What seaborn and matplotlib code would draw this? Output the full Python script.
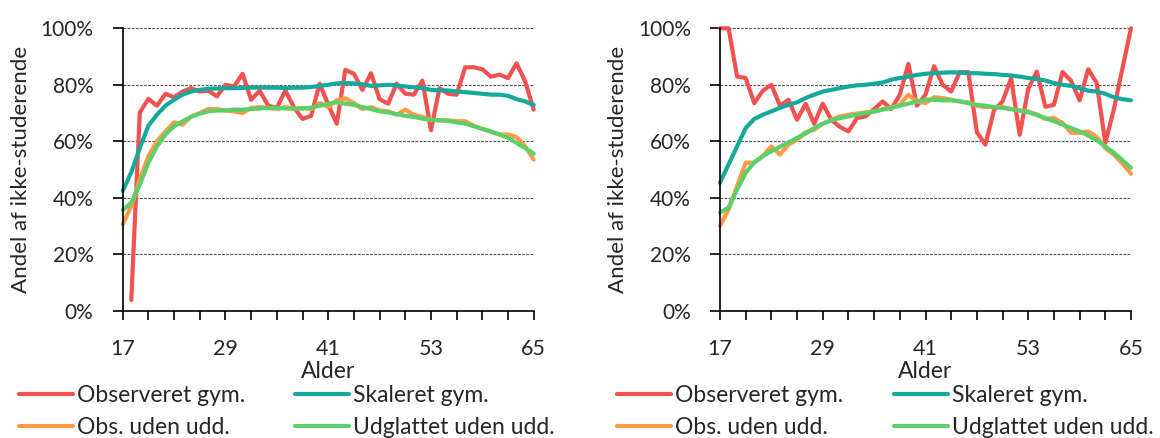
import numpy as np
import matplotlib
matplotlib.use('Agg')
import matplotlib.pyplot as plt
from matplotlib.ticker import PercentFormatter
import seaborn as sns

# Data, alder 17-65
ages = list(range(17, 66))

labels = ['Observeret gym.', 'Skaleret gym.', 'Obs. uden udd.', 'Udglattet uden udd.']
colors = ['#f2524f', '#15a99b', '#fd9a46', '#5ccf6b']

left_obs_gym = [np.nan, 3.8, 70.2, 75.0, 72.6, 76.8, 75.6, 77.6, 78.8, 77.6,
                77.9, 75.9, 80.0, 79.4, 83.9, 74.7, 77.9, 72.6, 71.8, 78.0,
                72.0, 67.9, 69.0, 80.4, 73.0, 66.2, 85.3, 83.9, 78.2, 84.1,
                74.9, 73.3, 80.4, 76.8, 76.5, 81.5, 63.9, 78.8, 76.8, 76.5,
                86.2, 86.2, 85.5, 82.9, 83.6, 82.4, 87.6, 81.2, 71.2]
left_skal_gym = [42.4, 49.0, 57.6, 65.5, 69.4, 72.6, 74.7, 76.5, 77.6, 78.2,
                 78.6, 78.7, 78.8, 78.8, 78.9, 79.0, 79.0, 79.0, 79.0, 78.8,
                 79.0, 79.0, 79.2, 79.6, 80.0, 80.5, 80.6, 80.5, 80.2, 79.6,
                 79.8, 80.0, 79.8, 79.4, 79.1, 78.8, 78.2, 78.0, 78.0, 77.6,
                 77.4, 77.1, 76.8, 76.5, 76.5, 76.1, 74.9, 74.1, 72.9]
left_obs_uden = [30.6, 37.0, 46.5, 54.7, 60.0, 63.5, 66.7, 65.9, 68.8, 70.0,
                 71.4, 71.4, 70.9, 70.6, 70.0, 71.8, 72.1, 71.8, 71.4, 72.1,
                 71.4, 71.8, 71.4, 73.5, 72.1, 74.5, 75.2, 73.5, 71.4, 72.1,
                 70.9, 70.6, 69.4, 71.2, 69.4, 68.6, 67.6, 67.4, 67.4, 67.1,
                 67.1, 65.5, 64.4, 63.5, 62.4, 62.4, 61.5, 58.2, 53.5]
left_udgl_uden = [35.6, 38.2, 44.7, 52.4, 58.2, 62.4, 65.3, 67.1, 68.6, 69.8,
                  70.6, 70.9, 70.9, 71.2, 71.2, 71.4, 71.6, 71.8, 71.8, 71.6,
                  71.6, 71.6, 71.9, 72.6, 73.3, 73.8, 73.3, 72.9, 72.1, 71.4,
                  70.6, 70.2, 69.6, 69.0, 68.6, 68.0, 67.6, 67.4, 67.2, 66.7,
                  66.2, 65.3, 64.4, 63.4, 62.4, 61.2, 59.4, 57.6, 55.6]

right_obs_gym = [100.0, 100.0, 82.9, 82.4, 73.5, 77.9, 80.0, 72.6, 74.7, 67.6,
                 73.3, 66.2, 73.3, 67.6, 65.1, 63.5, 68.2, 68.8, 71.4, 74.1,
                 71.4, 76.5, 87.4, 72.6, 76.5, 86.6, 80.0, 77.6, 84.5, 84.5,
                 63.2, 58.8, 71.0, 74.1, 82.3, 62.3, 78.6, 84.7, 72.2, 72.9,
                 84.5, 81.4, 74.5, 85.5, 80.6, 59.4, 71.3, 85.8, 100.0]
right_skal_gym = [45.3, 51.8, 58.2, 64.7, 67.9, 69.4, 70.6, 71.8, 72.9, 73.8,
                  75.3, 76.5, 77.6, 78.2, 78.8, 79.4, 79.8, 80.0, 80.4, 80.8,
                  81.8, 82.4, 82.9, 83.5, 83.9, 84.1, 84.3, 84.4, 84.3, 84.1,
                  84.1, 83.9, 83.8, 83.5, 83.3, 82.9, 82.4, 82.0, 81.5, 80.6,
                  80.0, 79.6, 78.8, 77.9, 77.6, 76.8, 75.6, 74.9, 74.5]
right_obs_uden = [30.0, 35.9, 44.1, 52.4, 52.4, 54.7, 58.2, 55.3, 58.8, 60.6,
                  63.2, 64.1, 66.2, 67.6, 68.8, 69.4, 69.8, 70.2, 70.6, 71.4,
                  71.8, 72.9, 76.5, 74.1, 73.5, 75.6, 75.3, 74.7, 74.1, 73.8,
                  72.6, 72.1, 72.1, 72.1, 71.4, 70.9, 70.6, 69.4, 67.9, 68.2,
                  66.5, 63.0, 63.0, 63.5, 61.5, 57.6, 55.3, 52.1, 48.5]
right_udgl_uden = [34.7, 36.5, 42.9, 48.8, 52.6, 54.7, 56.5, 58.0, 59.6, 61.2,
                   62.7, 64.7, 66.2, 67.4, 68.2, 68.8, 69.4, 70.0, 70.5, 71.2,
                   71.8, 72.6, 73.3, 74.1, 74.8, 74.7, 74.5, 74.5, 74.1, 73.5,
                   72.9, 72.6, 72.1, 71.8, 71.4, 70.9, 70.2, 69.4, 68.2, 67.1,
                   65.9, 64.7, 63.5, 62.0, 60.4, 58.2, 55.9, 53.3, 50.6]

panels = [
    [left_obs_gym, left_skal_gym, left_obs_uden, left_udgl_uden],
    [right_obs_gym, right_skal_gym, right_obs_uden, right_udgl_uden],
]

sns.set_style('white')
plt.rcParams['font.family'] = ['Lato', 'DejaVu Sans']
plt.rcParams['font.size'] = 15

fig = plt.figure(figsize=(11.6, 4.38), dpi=100)
W, H = 1160, 438
ax_lefts = [122.7, 720.0]
legend_x = [18.5, 617.0]

for i, series in enumerate(panels):
    ax = fig.add_axes([ax_lefts[i] / W, (H - 310.7) / H, 411.0 / W, 282.4 / H])
    for vals, lab, col in zip(series, labels, colors):
        sns.lineplot(x=ages, y=vals, ax=ax, color=col, lw=3.0, label=lab,
                     clip_on=False)

    ax.set_xlim(17, 65)
    ax.set_ylim(0, 100)
    ax.set_yticks(range(0, 101, 20))
    ax.yaxis.set_major_formatter(PercentFormatter(100, decimals=0))
    xt = list(range(17, 66, 3))
    ax.set_xticks(xt)
    ax.set_xticklabels([str(a) if (a - 17) % 12 == 0 else '' for a in xt])

    ax.yaxis.grid(True, linestyle=(0, (2.5, 1.2)), color='#555555', lw=0.8)
    ax.set_axisbelow(True)
    for s in ['top', 'right']:
        ax.spines[s].set_visible(False)
    for s in ['left', 'bottom']:
        ax.spines[s].set_color('black')
        ax.spines[s].set_linewidth(1.2)
    ax.tick_params(axis='y', direction='out', length=7, width=1.2,
                   color='black', pad=14, left=True, labelsize=15)
    ax.tick_params(axis='x', direction='out', length=6.5, width=1.2,
                   color='black', pad=14, bottom=True, labelsize=15.5)

    ax.set_xlabel('Alder', fontsize=16.5, labelpad=1)
    ax.set_ylabel('Andel af ikke-studerende', fontsize=16, labelpad=7)

    h, l = ax.get_legend_handles_labels()
    order = [0, 2, 1, 3]
    ax.legend([h[k] for k in order], [l[k] for k in order], ncol=2,
              loc='upper left', bbox_to_anchor=(legend_x[i] / W, 1 - 385 / H),
              bbox_transform=fig.transFigure, frameon=False, borderpad=0,
              borderaxespad=0, handlelength=2.36, handletextpad=0.18,
              columnspacing=2.2, labelspacing=0.5, fontsize=16.5)

fig.savefig('out.png', dpi=100)
